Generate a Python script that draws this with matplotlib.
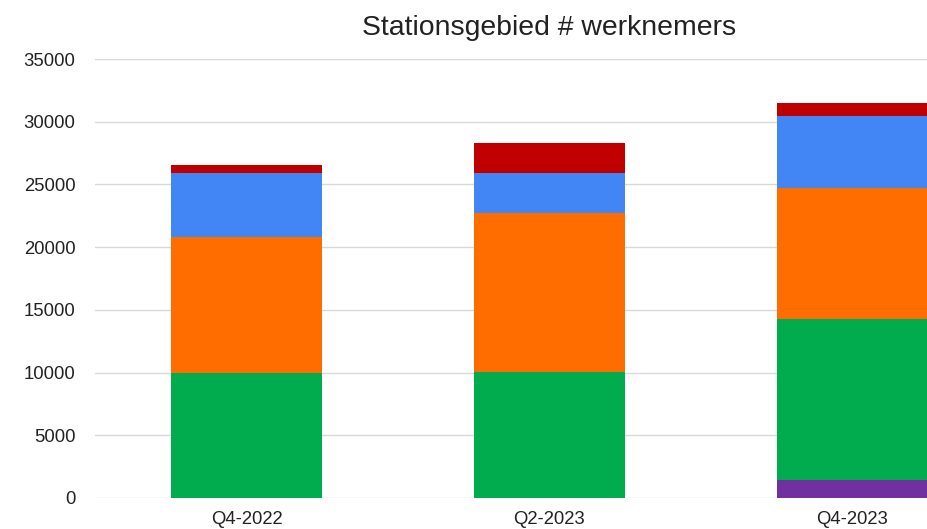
import matplotlib
matplotlib.use('agg')
import matplotlib.pyplot as plt
import numpy as np

# data
quarters = ['Q4-2022', 'Q2-2023', 'Q4-2023']
purple = [0, 0, 1430]
green = [10000, 10050, 12840]
orange = [10800, 12700, 10420]
blue = [5100, 3140, 5790]
red = [650, 2440, 990]

series = [purple, green, orange, blue, red]
colours = ['#7030a0', '#00ac4e', '#ff6d01', '#4285f4', '#c00000']

plt.rcParams['font.family'] = ['Liberation Sans', 'DejaVu Sans']

fig = plt.figure(figsize=(9.27, 5.29), dpi=100)
# axes run past the right edge, like the cropped reference
ax = fig.add_axes([95 / 927, 31 / 529, 909 / 927, 439 / 529])

x = np.arange(len(quarters))
bottom = np.zeros(len(quarters))
for vals, col in zip(series, colours):
    ax.bar(x, vals, width=0.5, bottom=bottom, color=col, zorder=3)
    bottom += np.array(vals)

ax.set_xlim(-0.5, 2.5)
ax.set_ylim(0, 35000)
ax.set_yticks(range(0, 35001, 5000))
ax.set_xticks(x)
ax.set_xticklabels(quarters)
ax.grid(axis='y', color='#d9d9d9', linewidth=1, zorder=0)
for s in ax.spines.values():
    s.set_visible(False)
ax.tick_params(axis='both', length=0, labelsize=13.3, colors='#222222')
ax.tick_params(axis='y', pad=14)
ax.tick_params(axis='x', pad=9)

ax.set_title('Stationsgebied # werknemers', fontsize=20.4, color='#222222', pad=17)

plt.savefig('out.png', dpi=100)
